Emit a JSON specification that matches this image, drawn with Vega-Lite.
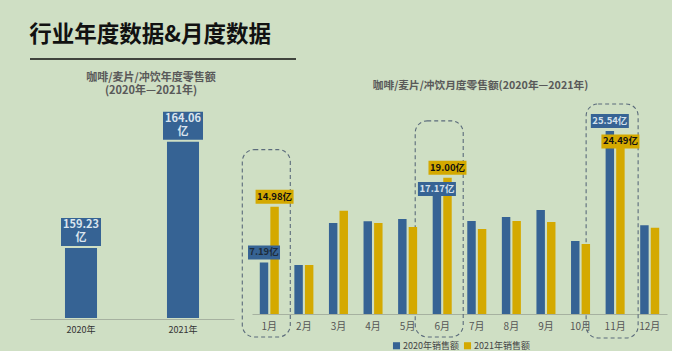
{
  "$schema": "https://vega.github.io/schema/vega-lite/v6.json",
  "background": "#cfdfc4",
  "padding": {"left": 29, "top": 23, "right": 5, "bottom": 0},
  "config": {
    "font": "Noto Sans CJK SC",
    "view": {"stroke": null},
    "axis": {"domainColor": "#a6b1a0", "domainWidth": 1.2, "ticks": false, "grid": false, "labelFont": "Noto Sans CJK SC"},
    "title": {"font": "Noto Sans CJK SC"},
    "legend": {"labelFont": "Noto Sans CJK SC"}
  },
  "datasets": {
    "annual": [
      {"year": "2020年", "v": 159.23},
      {"year": "2021年", "v": 164.06}
    ],
    "monthly": [
      {"month": "1月", "year": "2020年", "v": 7.19},
      {"month": "1月", "year": "2021年", "v": 14.98},
      {"month": "2月", "year": "2020年", "v": 6.84},
      {"month": "2月", "year": "2021年", "v": 6.84},
      {"month": "3月", "year": "2020年", "v": 12.70},
      {"month": "3月", "year": "2021年", "v": 14.42},
      {"month": "4月", "year": "2020年", "v": 12.95},
      {"month": "4月", "year": "2021年", "v": 12.70},
      {"month": "5月", "year": "2020年", "v": 13.26},
      {"month": "5月", "year": "2021年", "v": 12.14},
      {"month": "6月", "year": "2020年", "v": 17.17},
      {"month": "6月", "year": "2021年", "v": 19.00},
      {"month": "7月", "year": "2020年", "v": 12.98},
      {"month": "7月", "year": "2021年", "v": 11.86},
      {"month": "8月", "year": "2020年", "v": 13.53},
      {"month": "8月", "year": "2021年", "v": 12.98},
      {"month": "9月", "year": "2020年", "v": 14.51},
      {"month": "9月", "year": "2021年", "v": 12.84},
      {"month": "10月", "year": "2020年", "v": 10.19},
      {"month": "10月", "year": "2021年", "v": 9.77},
      {"month": "11月", "year": "2020年", "v": 25.54},
      {"month": "11月", "year": "2021年", "v": 24.49},
      {"month": "12月", "year": "2020年", "v": 12.37},
      {"month": "12月", "year": "2021年", "v": 12.04}
    ]
  },
  "bounds": "flush",
  "spacing": 40,
  "vconcat": [
    {
      "width": 266,
      "height": 1,
      "title": {"text": "行业年度数据&月度数据", "anchor": "start", "fontSize": 22.5, "fontWeight": "bold", "color": "#111111", "offset": 12},
      "data": {"values": [{"k": 0}]},
      "mark": {"type": "rule", "color": "#111111", "strokeWidth": 1.5},
      "encoding": {"y": {"datum": 0, "type": "quantitative", "scale": {"domain": [0, 1]}, "axis": null}}
    },
    {
      "bounds": "flush",
      "spacing": 18,
      "hconcat": [
        {
          "width": 204,
          "height": 220,
          "title": {"text": ["咖啡/麦片/冲饮年度零售额", "(2020年—2021年)"], "fontSize": 11, "fontWeight": "bold", "color": "#595959", "dx": 19, "offset": 3, "lineHeight": 13},
          "data": {"name": "annual"},
          "encoding": {
            "x": {"field": "year", "type": "nominal", "scale": {"paddingInner": 0.686, "paddingOuter": 0.343}, "axis": {"title": null, "labelAngle": 0, "labelFontSize": 9, "labelColor": "#333333", "labelPadding": 6}}
          },
          "layer": [
            {
              "mark": {"type": "bar", "color": "#366394"},
              "encoding": {
                "y": {"field": "v", "type": "quantitative", "scale": {"domain": [156.04, 165.28], "zero": false}, "axis": null},
                "y2": {"datum": 156.04}
              }
            },
            {
              "mark": {"type": "point", "shape": "M-1,-0.7H1V0.7H-1Z", "size": 1600, "filled": true, "color": "#366394", "opacity": 1, "strokeWidth": 0, "yOffset": -16},
              "encoding": {"y": {"field": "v", "type": "quantitative"}}
            },
            {
              "transform": [{"calculate": "format(datum.v, '.2f') + '\\n亿'", "as": "label"}],
              "mark": {"type": "text", "lineBreak": "\n", "fontSize": 11, "fontWeight": "bold", "color": "#dbe5ee", "yOffset": -23, "baseline": "middle", "lineHeight": 13},
              "encoding": {"y": {"field": "v", "type": "quantitative"}, "text": {"field": "label"}}
            }
          ]
        },
        {
          "width": 415,
          "height": 215,
          "title": {"text": "咖啡/麦片/冲饮月度零售额(2020年—2021年)", "fontSize": 10.7, "fontWeight": "bold", "color": "#595959", "dx": 21, "offset": 7},
          "data": {"name": "monthly"},
          "transform": [{"calculate": "format(datum.v, '.2f') + '亿'", "as": "label"}],
          "encoding": {
            "x": {"field": "month", "type": "nominal", "sort": ["1月","2月","3月","4月","5月","6月","7月","8月","9月","10月","11月","12月"], "scale": {"paddingInner": 0.45, "paddingOuter": 0.225}, "axis": {"title": null, "labelAngle": 0, "labelFontSize": 10, "labelColor": "#555555", "labelPadding": 7}}
          },
          "layer": [
            {
              "transform": [{"filter": "datum.month == '1月' || datum.month == '6月'"}],
              "mark": {"type": "bar", "width": 48, "fillOpacity": 0, "stroke": "#5b6b7b", "strokeDash": [4, 3], "strokeWidth": 1.1, "cornerRadius": 12, "yOffset": -57, "y2Offset": 23, "xOffset": -3},
              "encoding": {"y": {"aggregate": "max", "field": "v", "type": "quantitative", "axis": null}, "y2": {"datum": 0}}
            },
            {
              "transform": [{"filter": "datum.month == '11月'"}],
              "mark": {"type": "bar", "width": 52, "fillOpacity": 0, "stroke": "#5b6b7b", "strokeDash": [4, 3], "strokeWidth": 1.1, "cornerRadius": 12, "yOffset": -27, "y2Offset": 24, "xOffset": -3},
              "encoding": {"y": {"aggregate": "max", "field": "v", "type": "quantitative", "axis": null}, "y2": {"datum": 0}}
            },
            {
              "mark": {"type": "bar"},
              "encoding": {
                "xOffset": {"field": "year", "type": "nominal", "scale": {"paddingInner": 0.2}},
                "y": {"field": "v", "type": "quantitative", "scale": {"domain": [0, 30]}, "axis": null},
                "color": {"field": "year", "type": "nominal", "scale": {"range": ["#366394", "#d4a900"]}, "legend": {"title": null, "orient": "none", "legendX": 362, "legendY": 283, "direction": "horizontal", "symbolType": "square", "symbolSize": 50, "symbolStrokeWidth": 0, "labelFontSize": 9, "labelColor": "#444444", "columnPadding": 4, "labelOffset": 2, "padding": 0, "labelExpr": "datum.label + '销售额'"}}
              }
            },
            {
              "transform": [{"filter": "(datum.month == '1月' || datum.month == '6月' || datum.month == '11月') && !(datum.month == '6月' && datum.year == '2020年') && !(datum.month == '11月' && datum.year == '2021年')"}],
              "mark": {"type": "point", "filled": true, "opacity": 1, "strokeWidth": 0, "size": 1444, "yOffset": -10},
              "encoding": {
                "xOffset": {"field": "year", "type": "nominal"},
                "y": {"field": "v", "type": "quantitative"},
                "shape": {"condition": {"test": "datum.v < 10", "value": "M-0.842,-0.368H0.842V0.368H-0.842Z"}, "value": "M-1,-0.368H1V0.368H-1Z"},
                "fill": {"condition": {"test": "datum.year == '2020年'", "value": "#366394"}, "value": "#d4a900"}
              }
            },
            {
              "transform": [{"filter": "(datum.month == '1月' || datum.month == '6月' || datum.month == '11月') && !(datum.month == '6月' && datum.year == '2020年') && !(datum.month == '11月' && datum.year == '2021年')"}],
              "mark": {"type": "text", "fontSize": 9.5, "fontWeight": "bold", "baseline": "middle", "yOffset": -10},
              "encoding": {
                "xOffset": {"field": "year", "type": "nominal"},
                "y": {"field": "v", "type": "quantitative"},
                "text": {"field": "label"},
                "color": {"condition": [{"test": "datum.year == '2020年' && datum.month == '1月'", "value": "#1d2b3a"}, {"test": "datum.year == '2020年'", "value": "#d3e0ec"}], "value": "#111111"}
              }
            },
            {
              "transform": [{"filter": "(datum.month == '6月' && datum.year == '2020年') || (datum.month == '11月' && datum.year == '2021年')"}],
              "mark": {"type": "point", "filled": true, "opacity": 1, "strokeWidth": 0, "size": 1444, "shape": "M-1,-0.368H1V0.368H-1Z", "yOffset": {"expr": "datum.month == '6月' ? -2 : 3"}},
              "encoding": {
                "xOffset": {"field": "year", "type": "nominal"},
                "y": {"field": "v", "type": "quantitative"},
                "fill": {"condition": {"test": "datum.year == '2020年'", "value": "#366394"}, "value": "#d4a900"}
              }
            },
            {
              "transform": [{"filter": "(datum.month == '6月' && datum.year == '2020年') || (datum.month == '11月' && datum.year == '2021年')"}],
              "mark": {"type": "text", "fontSize": 9.5, "fontWeight": "bold", "baseline": "middle", "yOffset": {"expr": "datum.month == '6月' ? -2 : 3"}},
              "encoding": {
                "xOffset": {"field": "year", "type": "nominal"},
                "y": {"field": "v", "type": "quantitative"},
                "text": {"field": "label"},
                "color": {"condition": {"test": "datum.year == '2020年'", "value": "#d3e0ec"}, "value": "#111111"}
              }
            }
          ]
        }
      ]
    }
  ]
}
